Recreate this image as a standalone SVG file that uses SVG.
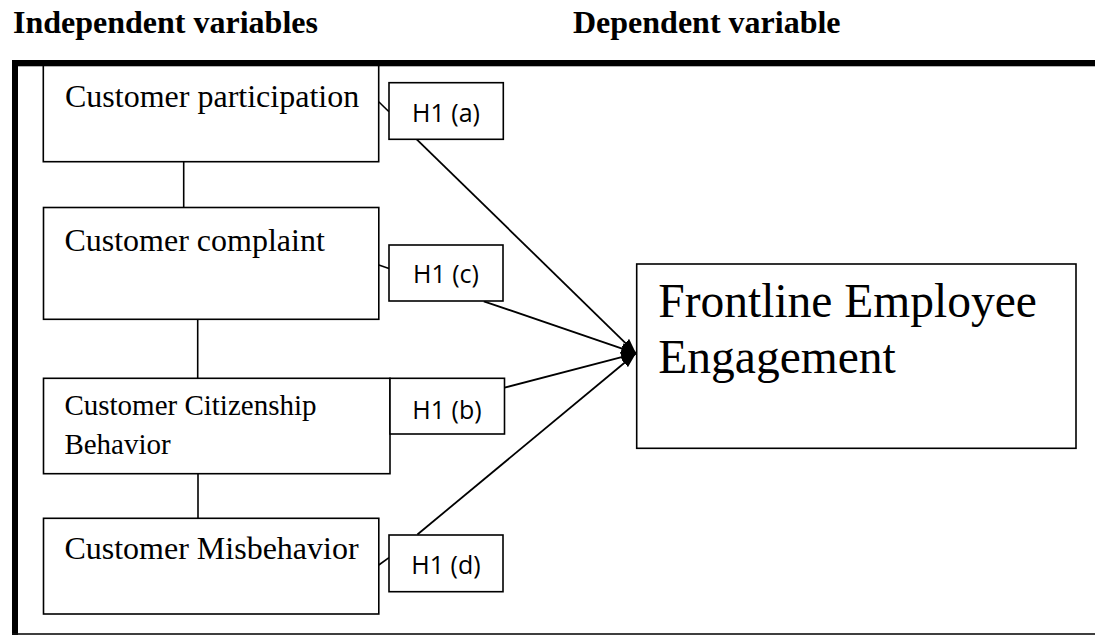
<svg xmlns="http://www.w3.org/2000/svg" width="1095" height="636" viewBox="0 0 1095 636">
  <style>
    .box { fill: #fff; stroke: #000; stroke-width: 1.6; }
    .hbox { fill: #fff; stroke: #000; stroke-width: 1.6; }
    .lbl { font-family: "Liberation Serif", "Times New Roman", serif; font-size: 32px; fill: #000; }
    .lbl-sm { font-family: "Liberation Serif", "Times New Roman", serif; font-size: 29px; fill: #000; }
    .big { font-family: "Liberation Serif", "Times New Roman", serif; font-size: 47.5px; fill: #000; }
    .head { font-family: "Liberation Serif", "Times New Roman", serif; font-size: 32px; font-weight: bold; fill: #000; }
    .hyp { font-family: "Open Sans", "Noto Sans", "Liberation Sans", sans-serif; font-size: 25px; fill: #000; text-anchor: middle; }
    .link { stroke: #000; stroke-width: 1.6; fill: none; }
    .arrow { stroke: #000; stroke-width: 1.8; fill: none; marker-end: url(#head); }
  </style>
  <defs>
    <marker id="head" viewBox="0 0 15 11" refX="15" refY="5.5" markerWidth="15" markerHeight="11" markerUnits="userSpaceOnUse" orient="auto">
      <path d="M0,0 L15,5.5 L0,11 Z" fill="#000"/>
    </marker>
  </defs>

  <rect width="1095" height="636" fill="#fff"/>

  <!-- column headings -->
  <text class="head" x="13" y="33">Independent variables</text>
  <text class="head" x="573" y="33">Dependent variable</text>

  <!-- connectors -->
  <g id="connectors">
    <!-- vertical links between the independent variables -->
    <line class="link" x1="183.7" y1="161.7" x2="183.7" y2="207.5"/>
    <line class="link" x1="197.7" y1="319.3" x2="197.7" y2="378.3"/>
    <line class="link" x1="198" y1="473.7" x2="198" y2="518.3"/>
    <!-- short ties from each variable to its hypothesis label -->
    <line class="link" x1="378.7" y1="101.7" x2="389" y2="111.7"/>
    <line class="link" x1="378.8" y1="265" x2="389" y2="268.5"/>
    <line class="link" x1="378.8" y1="565" x2="389" y2="557.7"/>
    <!-- hypothesis paths into the dependent variable -->
    <line class="arrow" x1="416.7" y1="139.3" x2="636" y2="353.3"/>
    <line class="arrow" x1="483.8" y1="301.3" x2="636" y2="353.3"/>
    <line class="arrow" x1="504.5" y1="387.7" x2="636" y2="353.3"/>
    <line class="arrow" x1="417.4" y1="534.5" x2="636" y2="353.3"/>
  </g>

  <!-- independent variables -->
  <g id="node-participation">
    <rect class="box" x="43.3" y="63" width="335.4" height="98.7"/>
    <text class="lbl" x="65" y="106.7">Customer participation</text>
  </g>
  <g id="node-complaint">
    <rect class="box" x="43.5" y="207.5" width="335.3" height="111.8"/>
    <text class="lbl" x="64.4" y="250.5">Customer complaint</text>
  </g>
  <g id="node-citizenship">
    <rect class="box" x="43.5" y="378.3" width="346.5" height="95.4"/>
    <text class="lbl-sm" x="64.4" y="415">Customer Citizenship</text>
    <text class="lbl-sm" x="64.4" y="454">Behavior</text>
  </g>
  <g id="node-misbehavior">
    <rect class="box" x="43.5" y="518.3" width="335.3" height="95.7"/>
    <text class="lbl" x="64.4" y="559">Customer Misbehavior</text>
  </g>

  <!-- hypothesis labels -->
  <g id="node-h1a">
    <rect class="hbox" x="389" y="82.7" width="114.3" height="56.6"/>
    <text class="hyp" x="446" y="121.7">H1 (a)</text>
  </g>
  <g id="node-h1c">
    <rect class="hbox" x="389" y="245" width="114" height="56"/>
    <text class="hyp" x="446" y="283">H1 (c)</text>
  </g>
  <g id="node-h1b">
    <rect class="hbox" x="390" y="378.3" width="114.5" height="55.7"/>
    <text class="hyp" x="447" y="419.3">H1 (b)</text>
  </g>
  <g id="node-h1d">
    <rect class="hbox" x="389" y="535" width="114" height="56.7"/>
    <text class="hyp" x="446" y="574.3">H1 (d)</text>
  </g>

  <!-- dependent variable -->
  <g id="node-engagement">
    <rect class="box" x="636.7" y="264" width="439.3" height="184.3"/>
    <text class="big" x="658.3" y="316.7">Frontline Employee</text>
    <text class="big" x="658.3" y="372.7">Engagement</text>
  </g>

  <!-- outer frame -->
  <g id="frame">
    <rect x="12" y="60" width="1083" height="6.3" fill="#000"/>
    <rect x="12" y="60" width="6" height="575" fill="#000"/>
    <rect x="12" y="633.2" width="1083" height="1.6" fill="#111"/>
  </g>
</svg>
